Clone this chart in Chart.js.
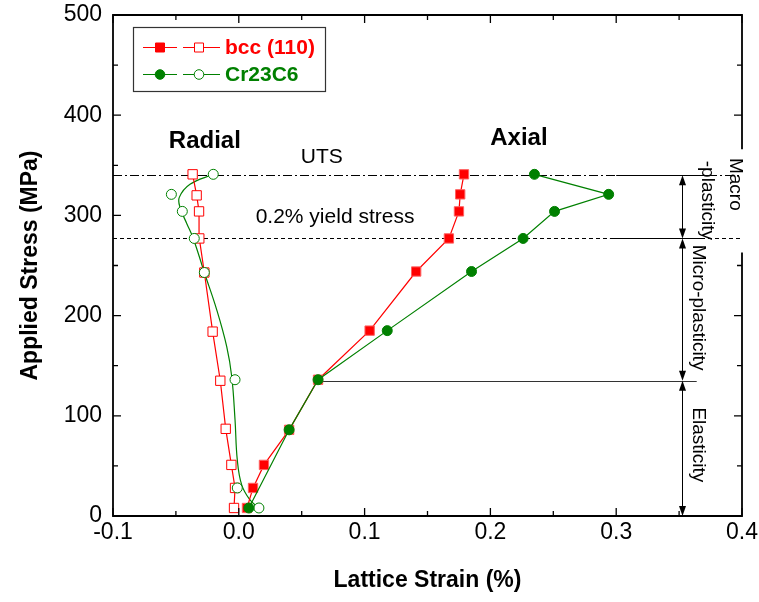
<!DOCTYPE html>
<html>
<head>
<meta charset="utf-8">
<script src="https://cdn.jsdelivr.net/npm/chart.js@4.4.1/dist/chart.umd.min.js"></script>
<style>
  html, body { margin: 0; padding: 0; background: #fff; }
  #wrap { width: 759px; height: 602px; }
</style>
</head>
<body>
<div id="wrap"><canvas id="chart" width="759" height="602"></canvas></div>
<script>
// values
const stressBccAxial = [8, 28, 51, 86, 136, 185, 244, 277, 304, 321, 341]
const strainBccAxial = [0.0065, 0.0113, 0.020, 0.040, 0.063, 0.104, 0.141, 0.167, 0.175, 0.176, 0.179]

const stressBccRadial = [8, 28, 51, 87, 135, 184, 243, 277, 304, 320, 341]
const strainBccRadial = [-0.0038, -0.003, -0.0059, -0.0104, -0.0147, -0.0208, -0.0274, -0.0314, -0.0316, -0.0335, -0.0367]

const stressCrAxial = [8, 86, 136, 185, 244, 277, 304, 321, 341]
const strainCrAxial = [0.008, 0.040, 0.063, 0.118, 0.185, 0.226, 0.251, 0.294, 0.235]

const stressCrRadial = [8, 28, 136, 243, 277, 304, 321, 341]
const strainCrRadial = [0.016, -0.0012, -0.003, -0.0274, -0.0354, -0.0449, -0.0536, -0.0203]

// smooth fit through the Cr23C6 radial points
const stressCrFit = [8, 16, 31, 56, 96, 139, 169, 206, 243, 277, 292, 308, 318, 331, 341]
const strainCrFit = [0.016, 0.0089, 0.0023, -0.0012, -0.003, -0.0056, -0.0096, -0.0176, -0.0274, -0.0362, -0.0414, -0.0467, -0.0473, -0.0388, -0.0203]

const xTicks = [-0.1, 0.0, 0.1, 0.2, 0.3, 0.4]
const yTicks = [0, 100, 200, 300, 400, 500]

const utsStress = 340
const yieldStress = 277
const elasticStress = 135
const elasticStrain = 0.063
const arrowStrain = 0.352

const RED = "#ff0000"
const GREEN = "#008000"
const FONT = "'Liberation Sans', Arial, sans-serif"

const toPoints = (xs, ys) => xs.map((x, i) => ({ x, y: ys[i] }))

const hline = (ctx, x1, x2, y, dash) => {
  ctx.setLineDash(dash || [])
  ctx.beginPath()
  ctx.moveTo(x1, Math.round(y) + 0.5)
  ctx.lineTo(x2, Math.round(y) + 0.5)
  ctx.stroke()
  ctx.setLineDash([])
}

const head = (ctx, x, y, dir) => {
  ctx.beginPath()
  ctx.moveTo(x, y)
  ctx.lineTo(x - 3.5, y - dir * 10)
  ctx.lineTo(x + 3.5, y - dir * 10)
  ctx.closePath()
  ctx.fill()
}

const arrow = (ctx, x, yTop, yBottom) => {
  const px = Math.round(x) + 0.5
  ctx.beginPath()
  ctx.moveTo(px, yTop + 4)
  ctx.lineTo(px, yBottom - 4)
  ctx.stroke()
  head(ctx, px, yTop, -1)
  head(ctx, px, yBottom, 1)
}

const vtext = (ctx, text, x, y) => {
  ctx.save()
  ctx.translate(x, y)
  ctx.rotate(Math.PI / 2)
  ctx.textAlign = "center"
  ctx.textBaseline = "middle"
  ctx.fillText(text, 0, 0)
  ctx.restore()
}

const legendRow = (ctx, x, y, color, style, label) => {
  ctx.strokeStyle = color
  ctx.lineWidth = 1
  ctx.beginPath()
  ctx.moveTo(x, y + 0.5); ctx.lineTo(x + 34, y + 0.5)
  ctx.moveTo(x + 40, y + 0.5); ctx.lineTo(x + 77, y + 0.5)
  ctx.stroke()
  const mark = (cx, filled) => {
    ctx.beginPath()
    if (style === "rect") ctx.rect(cx - 4.5, y - 4, 9, 9)
    else ctx.arc(cx, y + 0.5, 4.8, 0, Math.PI * 2)
    ctx.fillStyle = filled ? color : "#fff"
    ctx.fill()
    ctx.stroke()
  }
  mark(x + 17, true)
  mark(x + 56, false)
  ctx.fillStyle = color
  ctx.font = `bold 21px ${FONT}`
  ctx.textAlign = "left"
  ctx.textBaseline = "middle"
  ctx.fillText(label, x + 82, y + 1)
}

const overlay = {
  id: "overlay",
  beforeDatasetsDraw(chart) {
    const { ctx, chartArea: a, scales: { x, y } } = chart
    ctx.save()
    ctx.strokeStyle = "#000"
    ctx.lineWidth = 1
    hline(ctx, a.left, a.right, y.getPixelForValue(utsStress), [9, 3, 2, 3])
    hline(ctx, a.left, a.right, y.getPixelForValue(yieldStress), [4, 3])
    hline(ctx, x.getPixelForValue(0.3), x.getPixelForValue(0.37), y.getPixelForValue(utsStress))
    hline(ctx, x.getPixelForValue(0.295), x.getPixelForValue(0.37), y.getPixelForValue(yieldStress))
    ctx.strokeStyle = "#333"
    hline(ctx, x.getPixelForValue(elasticStrain), x.getPixelForValue(0.364), y.getPixelForValue(elasticStress))
    ctx.restore()
  },
  afterDatasetsDraw(chart) {
    const { ctx, chartArea: a, scales: { x, y } } = chart
    ctx.save()

    // frame, right side left open behind the "Macro" label
    ctx.strokeStyle = "#000"
    ctx.lineWidth = 1.8
    ctx.beginPath()
    ctx.moveTo(a.right, y.getPixelForValue(366))
    ctx.lineTo(a.right, a.top)
    ctx.lineTo(a.left, a.top)
    ctx.lineTo(a.left, a.bottom)
    ctx.lineTo(a.right, a.bottom)
    ctx.lineTo(a.right, y.getPixelForValue(263))
    ctx.stroke()

    // inward ticks
    ctx.lineWidth = 1.3
    ctx.beginPath()
    for (let i = 0; i <= 10; i++) {
      const px = x.getPixelForValue(-0.1 + i * 0.05)
      const len = i % 2 === 0 ? 8 : 5
      ctx.moveTo(px, a.bottom); ctx.lineTo(px, a.bottom - len)
      ctx.moveTo(px, a.top); ctx.lineTo(px, a.top + len)
    }
    for (let i = 0; i <= 10; i++) {
      const v = i * 50
      const py = y.getPixelForValue(v)
      const len = i % 2 === 0 ? 8 : 5
      ctx.moveTo(a.left, py); ctx.lineTo(a.left + len, py)
      if (v < 263 || v > 366) {
        ctx.moveTo(a.right, py); ctx.lineTo(a.right - len, py)
      }
    }
    ctx.stroke()

    // stage arrows
    ctx.lineWidth = 1
    ctx.fillStyle = "#000"
    const ax = x.getPixelForValue(arrowStrain)
    arrow(ctx, ax, y.getPixelForValue(utsStress), y.getPixelForValue(yieldStress))
    arrow(ctx, ax, y.getPixelForValue(yieldStress), y.getPixelForValue(elasticStress))
    arrow(ctx, ax, y.getPixelForValue(elasticStress), y.getPixelForValue(0))

    ctx.font = `19px ${FONT}`
    vtext(ctx, "Macro", ax + 54, y.getPixelForValue(331))
    vtext(ctx, "-plasticity", ax + 26, y.getPixelForValue(315))
    vtext(ctx, "Micro-plasticity", ax + 17, y.getPixelForValue(208))
    vtext(ctx, "Elasticity", ax + 17, y.getPixelForValue(71))

    ctx.textAlign = "center"
    ctx.textBaseline = "middle"
    ctx.font = `bold 24px ${FONT}`
    ctx.fillText("Radial", x.getPixelForValue(-0.027), y.getPixelForValue(374))
    ctx.fillText("Axial", x.getPixelForValue(0.2227), y.getPixelForValue(377))
    ctx.font = `21px ${FONT}`
    ctx.fillText("UTS", x.getPixelForValue(0.066), y.getPixelForValue(358))
    ctx.fillText("0.2% yield stress", x.getPixelForValue(0.0765), y.getPixelForValue(298))

    // legend box
    const lx = a.left + 20
    const ly = a.top + 12
    ctx.strokeStyle = "#333"
    ctx.lineWidth = 1.2
    ctx.strokeRect(lx + 0.5, ly + 0.5, 192, 64)
    legendRow(ctx, lx + 10, ly + 20, RED, "rect", "bcc (110)")
    legendRow(ctx, lx + 10, ly + 47, GREEN, "circle", "Cr23C6")

    ctx.restore()
  }
}

new Chart(document.getElementById("chart"), {
  type: "scatter",
  data: {
    datasets: [
      {
        data: toPoints(strainCrAxial, stressCrAxial),
        showLine: true,
        borderColor: GREEN,
        borderWidth: 1.2,
        backgroundColor: GREEN,
        pointStyle: "circle",
        pointRadius: 5,
        pointBorderWidth: 1
      },
      {
        data: toPoints(strainBccAxial, stressBccAxial),
        showLine: true,
        borderColor: RED,
        borderWidth: 1.2,
        backgroundColor: RED,
        pointBorderColor: "#ff6060",
        pointStyle: "rect",
        pointRadius: 6.6,
        pointBorderWidth: 1
      },
      {
        data: toPoints(strainCrRadial, stressCrRadial),
        showLine: false,
        borderColor: GREEN,
        backgroundColor: "#fff",
        pointStyle: "circle",
        pointRadius: 5,
        pointBorderWidth: 1
      },
      {
        data: toPoints(strainBccRadial, stressBccRadial),
        showLine: true,
        borderColor: RED,
        borderWidth: 1.2,
        backgroundColor: "#fff",
        pointStyle: "rect",
        pointRadius: 6.6,
        pointBorderWidth: 1
      },
      {
        data: toPoints(strainCrFit, stressCrFit),
        showLine: true,
        borderColor: GREEN,
        borderWidth: 1.2,
        tension: 0.4,
        pointRadius: 0
      }
    ]
  },
  options: {
    responsive: false,
    animation: false,
    layout: { padding: { top: 15, right: 17, left: 0, bottom: 0 } },
    plugins: {
      legend: { display: false },
      tooltip: { enabled: false }
    },
    scales: {
      x: {
        type: "linear",
        min: -0.1,
        max: 0.4,
        afterFit: (scale) => {
          scale.height = 86
          scale.paddingLeft = 0
          scale.paddingRight = 0
        },
        afterBuildTicks: (scale) => { scale.ticks = xTicks.map((value) => ({ value })) },
        grid: { display: false, drawTicks: false },
        border: { display: false },
        ticks: {
          color: "#000",
          padding: 3,
          maxRotation: 0,
          font: { family: FONT, size: 23 },
          callback: (value) => value.toFixed(1)
        },
        title: {
          display: true,
          text: "Lattice Strain (%)",
          color: "#000",
          font: { family: FONT, size: 23, weight: "bold" },
          padding: { top: 0, bottom: 8 }
        }
      },
      y: {
        type: "linear",
        min: 0,
        max: 500,
        afterFit: (scale) => {
          scale.width = 113
          scale.paddingTop = 0
          scale.paddingBottom = 0
        },
        afterBuildTicks: (scale) => { scale.ticks = yTicks.map((value) => ({ value })) },
        grid: { display: false, drawTicks: false },
        border: { display: false },
        ticks: {
          color: "#000",
          padding: 11,
          font: { family: FONT, size: 23 }
        },
        title: {
          display: true,
          text: "Applied Stress (MPa)",
          color: "#000",
          font: { family: FONT, size: 23, weight: "bold" },
          padding: { top: 17, bottom: 0 }
        }
      }
    }
  },
  plugins: [overlay]
})
</script>
</body>
</html>
